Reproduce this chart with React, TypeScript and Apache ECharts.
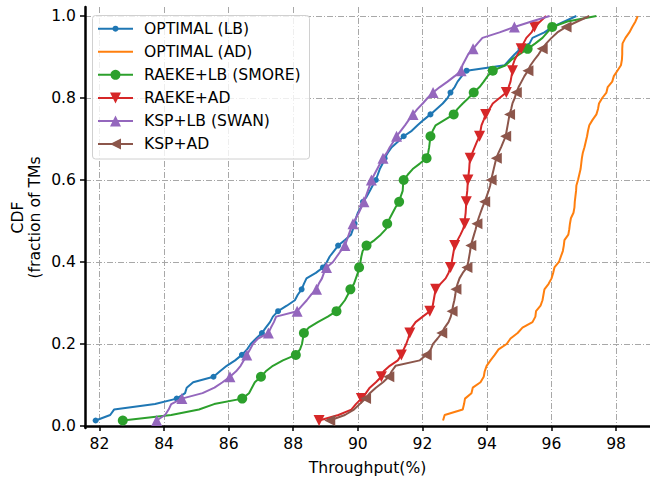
import React, { useEffect, useRef } from "react";
import * as echarts from "echarts";

const seriesNames = [
  "OPTIMAL (LB)",
  "OPTIMAL (AD)",
  "RAEKE+LB (SMORE)",
  "RAEKE+AD",
  "KSP+LB (SWAN)",
  "KSP+AD",
];
const colors = ["#1f77b4", "#ff7f0e", "#2ca02c", "#d62728", "#9467bd", "#8c564b"];
const xTicks = [82, 84, 86, 88, 90, 92, 94, 96, 98];
const yTicks = [0, 0.2, 0.4, 0.6, 0.8, 1.0];
const markEvery = 4;

// Throughput (%) values of the CDF points (75 TMs each)
const optimalLB = [81.88, 82.33, 82.45, 83.72, 84.39, 84.65, 84.7, 84.9, 85.53, 85.73, 85.94, 86.2, 86.41, 86.57, 86.68, 86.85, 87.03, 87.15, 87.28, 87.37, 87.53, 87.8, 88.05, 88.14, 88.26, 88.33, 88.41, 88.7, 88.92, 89.04, 89.13, 89.26, 89.39, 89.6, 89.79, 89.85, 89.9, 89.94, 90.0, 90.1, 90.16, 90.28, 90.37, 90.46, 90.56, 90.62, 90.68, 90.77, 90.83, 90.93, 91.05, 91.24, 91.42, 91.67, 91.85, 92.04, 92.25, 92.44, 92.63, 92.78, 92.87, 93.0, 93.09, 93.22, 93.37, 94.55, 94.7, 94.86, 95.04, 95.32, 95.41, 95.78, 96.03, 96.4, 96.77];
const optimalAD = [92.64, 92.69, 93.25, 93.29, 93.32, 93.52, 93.56, 93.8, 93.9, 93.93, 93.99, 94.11, 94.24, 94.36, 94.61, 94.73, 94.95, 95.1, 95.41, 95.5, 95.52, 95.66, 95.72, 95.75, 95.78, 95.91, 96.0, 96.05, 96.09, 96.23, 96.29, 96.35, 96.38, 96.4, 96.52, 96.55, 96.57, 96.6, 96.68, 96.71, 96.72, 96.74, 96.76, 96.77, 96.82, 96.86, 96.9, 96.92, 96.94, 96.97, 97.02, 97.06, 97.1, 97.13, 97.17, 97.27, 97.39, 97.44, 97.47, 97.57, 97.7, 97.74, 97.88, 97.93, 98.04, 98.15, 98.18, 98.19, 98.19, 98.2, 98.29, 98.41, 98.5, 98.6, 98.67];
const raekeLB = [82.72, 84.22, 85.08, 85.55, 86.42, 86.63, 86.72, 86.81, 87.0, 87.15, 87.37, 87.68, 88.08, 88.21, 88.27, 88.3, 88.33, 88.48, 88.76, 89.07, 89.34, 89.47, 89.6, 89.69, 89.77, 89.88, 89.94, 90.0, 90.04, 90.08, 90.11, 90.15, 90.27, 90.52, 90.71, 90.87, 90.91, 90.99, 91.08, 91.17, 91.28, 91.33, 91.39, 91.4, 91.42, 91.55, 91.7, 91.92, 92.13, 92.18, 92.21, 92.23, 92.25, 92.32, 92.41, 92.69, 92.97, 93.09, 93.25, 93.43, 93.59, 93.77, 93.9, 94.02, 94.18, 94.58, 94.76, 95.01, 95.26, 95.5, 95.72, 95.87, 96.02, 96.49, 97.39];
const raekeAD = [88.8, 89.4, 89.8, 89.94, 90.11, 90.25, 90.37, 90.56, 90.73, 90.8, 90.99, 91.24, 91.35, 91.42, 91.5, 91.56, 91.61, 91.67, 91.79, 92.01, 92.23, 92.32, 92.35, 92.38, 92.41, 92.56, 92.72, 92.81, 92.87, 92.91, 92.94, 92.97, 93.0, 93.09, 93.18, 93.26, 93.31, 93.32, 93.34, 93.35, 93.36, 93.37, 93.39, 93.4, 93.41, 93.43, 93.45, 93.46, 93.48, 93.55, 93.62, 93.69, 93.77, 93.8, 93.83, 93.9, 93.96, 94.08, 94.18, 94.39, 94.6, 94.67, 94.73, 94.76, 94.79, 94.8, 94.86, 94.95, 95.06, 95.13, 95.22, 95.38, 95.47, 95.65, 95.83];
const kspLB = [83.77, 84.03, 84.14, 84.22, 84.55, 85.19, 85.56, 85.81, 86.04, 86.23, 86.37, 86.47, 86.56, 86.66, 86.75, 86.91, 87.23, 87.31, 87.4, 87.47, 88.12, 88.27, 88.42, 88.55, 88.72, 88.79, 88.89, 88.95, 89.03, 89.23, 89.35, 89.47, 89.6, 89.66, 89.72, 89.78, 89.85, 89.94, 90.03, 90.11, 90.19, 90.25, 90.31, 90.37, 90.42, 90.51, 90.6, 90.69, 90.78, 90.9, 90.99, 91.1, 91.2, 91.33, 91.46, 91.58, 91.71, 91.85, 92.01, 92.16, 92.33, 92.54, 92.78, 93.0, 93.2, 93.24, 93.33, 93.42, 93.57, 93.71, 93.86, 94.39, 94.85, 95.38, 95.94];
const kspAD = [89.13, 89.6, 89.88, 90.06, 90.24, 90.37, 90.56, 90.78, 90.96, 91.05, 91.17, 91.92, 92.12, 92.26, 92.33, 92.47, 92.6, 92.69, 92.81, 92.88, 92.92, 92.95, 92.99, 93.02, 93.04, 93.09, 93.15, 93.25, 93.38, 93.42, 93.45, 93.48, 93.5, 93.55, 93.6, 93.65, 93.69, 93.74, 93.8, 93.86, 93.93, 93.99, 94.05, 94.1, 94.13, 94.17, 94.21, 94.25, 94.29, 94.36, 94.44, 94.51, 94.58, 94.61, 94.64, 94.67, 94.7, 94.75, 94.79, 94.86, 94.91, 94.98, 95.07, 95.16, 95.27, 95.35, 95.47, 95.6, 95.71, 95.84, 96.0, 96.18, 96.45, 96.8, 97.17];

const seriesValues = [optimalLB, optimalAD, raekeLB, raekeAD, kspLB, kspAD];
const markerTypes = ["circle", "none", "circle", "triangle", "triangle", "triangle"];
const markerRotations = [0, 0, 0, 180, 0, 90];
const markerSizes = [6, 0, 10, 11, 11, 11];

const FONT = "DejaVu Sans";
const FS = 15.6;

function cdfPoints(xs: number[], withMarkers: boolean) {
  const n = xs.length;
  return xs.map((x, i) => {
    const y = (i + 1) / n;
    if (withMarkers && i % markEvery === 0) return { value: [x, y] };
    return { value: [x, y], symbol: "none" };
  });
}

function legendGraphics() {
  const els: any[] = [];
  els.push({
    type: "rect",
    shape: { x: 92.5, y: 15.5, width: 217, height: 143.5, r: 3 },
    style: { fill: "rgba(255,255,255,0.8)", stroke: "#d0d0d0", lineWidth: 1 },
    z: 100,
  });
  const rowY0 = 28.7;
  const rowStep = 23.06;
  seriesNames.forEach((name, k) => {
    const yc = rowY0 + k * rowStep;
    const color = colors[k];
    const cx = 115.5;
    els.push({
      type: "line",
      shape: { x1: 98, y1: yc, x2: 133, y2: yc },
      style: { stroke: color, lineWidth: 2 },
      z: 101,
    });
    const s = markerSizes[k];
    const h = s / 2;
    if (markerTypes[k] === "circle") {
      els.push({ type: "circle", shape: { cx, cy: yc, r: h }, style: { fill: color }, z: 102 });
    } else if (markerTypes[k] === "triangle") {
      let pts: number[][];
      if (markerRotations[k] === 180) pts = [[cx, yc + h], [cx + h, yc - h], [cx - h, yc - h]];
      else if (markerRotations[k] === 90) pts = [[cx - h, yc], [cx + h, yc - h], [cx + h, yc + h]];
      else pts = [[cx, yc - h], [cx + h, yc + h], [cx - h, yc + h]];
      els.push({ type: "polygon", shape: { points: pts }, style: { fill: color }, z: 102 });
    }
    els.push({
      type: "text",
      x: 144,
      y: yc,
      style: {
        text: name,
        fill: "#000",
        font: `${FS}px "${FONT}"`,
        textAlign: "left",
        textVerticalAlign: "middle",
      },
      z: 102,
    });
  });
  return els;
}

export default function App() {
  const ref = useRef<HTMLDivElement>(null);
  useEffect(() => {
    if (!ref.current) return;
    const chart = echarts.init(ref.current, undefined, { renderer: "svg" });
    const gridLine = { color: "#a8a8a8", width: 1, type: [6, 2, 1, 2] as any };
    const series = seriesValues.map((xs, k) => ({
      name: seriesNames[k],
      type: "line",
      data: cdfPoints(xs, markerTypes[k] !== "none"),
      symbol: markerTypes[k] === "none" ? "none" : markerTypes[k],
      symbolSize: markerSizes[k] || 4,
      symbolRotate: markerRotations[k],
      showSymbol: true,
      showAllSymbol: true,
      lineStyle: { color: colors[k], width: 2 },
      itemStyle: { color: colors[k] },
      emphasis: { disabled: true },
      silent: true,
      z: 2 + k,
    }));
    chart.setOption({
      animation: false,
      grid: { left: 85, right: 0, top: 7, bottom: 51, containLabel: false },
      xAxis: {
        type: "value",
        min: 81.55,
        max: 99.05,
        axisLine: { show: true, lineStyle: { color: "#000", width: 2.5 } },
        axisTick: { show: true, customValues: xTicks, length: 5, lineStyle: { color: "#000", width: 1.5 } },
        axisLabel: {
          customValues: xTicks,
          formatter: (v: number) => String(v),
          color: "#000",
          fontFamily: FONT,
          fontSize: FS,
          margin: 8,
        },
        splitLine: { show: true, lineStyle: gridLine },
      },
      yAxis: {
        type: "value",
        min: -0.005,
        max: 1.022,
        axisLine: { show: true, lineStyle: { color: "#000", width: 2.5 } },
        axisTick: { show: true, customValues: yTicks, length: 5, lineStyle: { color: "#000", width: 1.5 } },
        axisLabel: {
          customValues: yTicks,
          formatter: (v: number) => v.toFixed(1),
          color: "#000",
          fontFamily: FONT,
          fontSize: FS,
          margin: 9,
        },
        splitLine: { show: true, lineStyle: gridLine },
      },
      series,
      graphic: [
        ...legendGraphics(),
        {
          type: "text",
          x: 367.5,
          y: 468,
          style: {
            text: "Throughput(%)",
            fill: "#000",
            font: `${FS}px "${FONT}"`,
            textAlign: "center",
            textVerticalAlign: "middle",
          },
        },
        {
          type: "text",
          x: 18,
          y: 217.5,
          rotation: Math.PI / 2,
          style: {
            text: "CDF",
            fill: "#000",
            font: `${FS}px "${FONT}"`,
            textAlign: "center",
            textVerticalAlign: "middle",
          },
        },
        {
          type: "text",
          x: 35,
          y: 217.5,
          rotation: Math.PI / 2,
          style: {
            text: "(fraction of TMs",
            fill: "#000",
            font: `${FS}px "${FONT}"`,
            textAlign: "center",
            textVerticalAlign: "middle",
          },
        },
      ],
    });
    return () => chart.dispose();
  }, []);
  return (
    <div
      ref={ref}
      style={{ position: "fixed", left: 0, top: 0, width: 650, height: 479, background: "#fff" }}
    />
  );
}
